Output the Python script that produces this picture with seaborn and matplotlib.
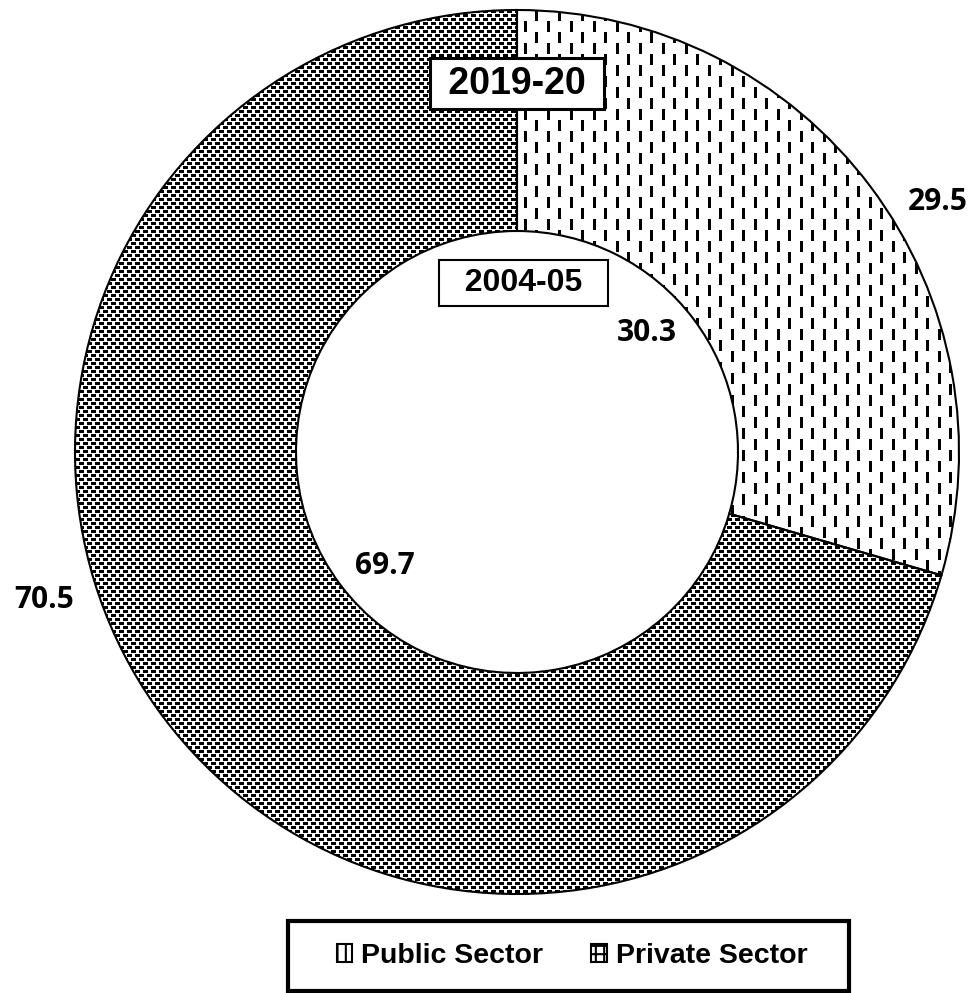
"""
Donut chart: share of public vs private sector, 2004-05 (inner) and 2019-20 (outer).
"""

import numpy as np
import matplotlib
matplotlib.use("Agg")
import matplotlib.pyplot as plt
import matplotlib.patches as mpatches
import seaborn as sns

# data
sectors = ["Public Sector", "Private Sector"]
share_2019 = [29.5, 70.5]   # outer ring
share_2004 = [30.3, 69.7]   # inner ring
year_outer = "2019-20"
year_inner = "2004-05"

# style
sns.set_theme(style="white")
plt.rcParams["font.family"] = ["Liberation Sans", "DejaVu Sans"]
plt.rcParams["text.color"] = "black"
plt.rcParams["hatch.linewidth"] = 1.5

W, H, DPI = 971, 993, 100
fig = plt.figure(figsize=(W / DPI, H / DPI), dpi=DPI)
fig.patch.set_facecolor("white")

# pie axes: centre (517, 452) px, radius 442 px
R_PX = 442
CX, CY = 517, 452
ax = fig.add_axes([(CX - R_PX) / W, (H - CY - R_PX) / H, 2 * R_PX / W, 2 * R_PX / H])

# inner ring (drawn plain white, like the reference)
ax.pie(share_2004, radius=0.5, startangle=90, counterclock=False,
       colors=["white", "white"], wedgeprops=dict(width=0.5, linewidth=0))

# outer ring
wedges, _ = ax.pie(share_2019, radius=1.0, startangle=90, counterclock=False,
                   wedgeprops=dict(width=0.5, facecolor="none",
                                   edgecolor="black", linewidth=1.5))
for w in wedges:
    w.set_zorder(3)

# pixel textures, clipped to each wedge
N = 2 * R_PX
yy, xx = np.mgrid[0:N, 0:N]
dash = (((xx % 23) < 3) & ((yy % 22) < 11)) | \
       (((xx % 23) >= 12) & ((xx % 23) < 15) & (((yy + 11) % 22) < 11))
dots = (((xx + 4 * (yy // 4)) % 8) < 5) & ((yy % 4) < 3)

for w, tex in zip(wedges, [dash, dots]):
    im = ax.imshow(tex.astype(float), cmap="Greys", vmin=0, vmax=1,
                   extent=(-1, 1, -1, 1), interpolation="nearest", zorder=2)
    im.set_clip_path(w)

ax.set_xlim(-1, 1)
ax.set_ylim(-1, 1)
ax.set_aspect("equal")
ax.axis("off")

# value labels
num_font = dict(fontsize=21.5, fontweight="bold", family=["Open Sans", "DejaVu Sans"],
                ha="center", va="center", color="black", zorder=5)
ax.text(0.952, 0.566, f"{share_2019[0]}", **num_font)
ax.text(-1.070, -0.335, f"{share_2019[1]}", **num_font)
ax.text(0.294, 0.269, f"{share_2004[0]}", **num_font)
ax.text(-0.299, -0.258, f"{share_2004[1]}", **num_font)

# year boxes
ax.text(0.0, 0.833, f" {year_outer} ", fontsize=27, fontweight="bold",
        ha="center", va="center", color="black", zorder=5,
        bbox=dict(boxstyle="square,pad=0.2", fc="white", ec="black", lw=2.2))
ax.text(0.014, 0.382, f"  {year_inner}  ", fontsize=23, fontweight="bold",
        ha="center", va="center", color="black", zorder=5,
        bbox=dict(boxstyle="square,pad=0.25", fc="white", ec="black", lw=1.5))

# legend
handles = [
    mpatches.Patch(facecolor="white", edgecolor="black", hatch="||", linewidth=1.5),
    mpatches.Patch(facecolor="white", edgecolor="black", hatch="++", linewidth=1.5),
]
leg = fig.legend(handles, sectors, loc="center", bbox_to_anchor=(572 / W, 37 / H),
                 ncol=2, frameon=False, prop=dict(size=20.5, weight="bold"),
                 handlelength=0.55, handleheight=0.55, handletextpad=0.3,
                 columnspacing=1.7)
for t in leg.get_texts():
    t.set_color("black")
fig.patches.append(mpatches.Rectangle((288 / W, 2 / H), 561 / W, 70 / H,
                                      transform=fig.transFigure, fill=False,
                                      edgecolor="black", linewidth=3))

fig.savefig("out.png", dpi=DPI)
